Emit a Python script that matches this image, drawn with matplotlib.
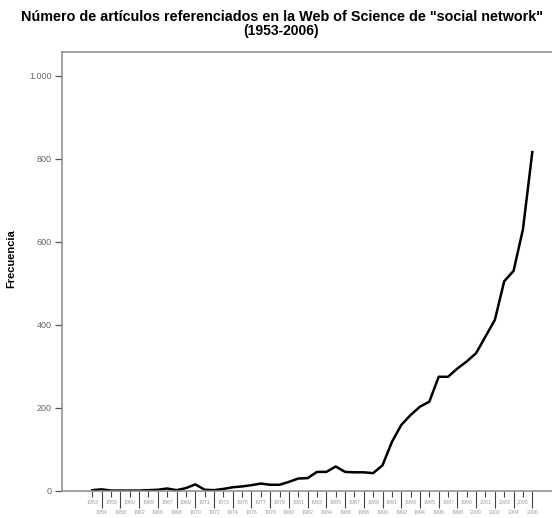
#!/usr/bin/env python3
"""Web of Science articles on "social network", 1953-2006."""

import matplotlib
matplotlib.use("Agg")
import matplotlib.pyplot as plt
from matplotlib.ticker import FuncFormatter

# categories on the x axis (years with at least one record)
years = [1953, 1954, 1955, 1958, 1960, 1962] + list(range(1965, 2007))

# number of articles per year
articles = [
    2, 4, 1, 1, 1, 1, 2, 3, 6, 2,
    7, 16, 3, 2, 5, 9, 11, 14, 18, 15,
    15, 22, 30, 31, 46, 46, 59, 46, 45, 45,
    43, 62, 118, 159, 183, 203, 215, 275, 275, 295,
    312, 332, 372, 412, 505, 530, 630, 816,
]

title_lines = [
    'Número de artículos referenciados en la Web of Science de "social network"',
    "(1953-2006)",
]
y_label = "Frecuencia"
y_ticks = [0, 200, 400, 600, 800, 1000]

W, H = 552, 518
fig = plt.figure(figsize=(W / 100, H / 100), dpi=100)
plt.rcParams["font.family"] = ["Liberation Sans", "DejaVu Sans"]

# axes box in pixels: left 62, top 52, bottom 491, right past the image edge
left, top, bottom, right = 62, 52, 491, 562
ax = fig.add_axes([left / W, 1 - bottom / H, (right - left) / W, (bottom - top) / H])

x = list(range(len(years)))
ax.plot(x, articles, color="black", linewidth=1.8, solid_joinstyle="round")

ax.set_xlim(-3.24, 47 + (right - 532.3) / 9.362)
ax.set_ylim(0, 1057)

for side in ("left", "top", "bottom"):
    ax.spines[side].set_color("#8a8a8a")
    ax.spines[side].set_linewidth(1.1)
ax.spines["right"].set_visible(False)

ax.set_yticks(y_ticks)
ax.yaxis.set_major_formatter(FuncFormatter(lambda v, _: f"{int(v):,}".replace(",", ".")))
ax.tick_params(axis="y", direction="out", length=5, width=0.9, color="#555555",
               labelsize=6.5, labelcolor="#666666", pad=2.5)

# two rows of year labels: even positions on top, odd positions below
even = x[0::2]
odd = x[1::2]
ax.set_xticks(even)
ax.set_xticklabels([str(years[i]) for i in even])
ax.set_xticks(odd, minor=True)
ax.set_xticklabels([str(years[i]) for i in odd], minor=True)
ax.tick_params(axis="x", which="major", direction="out", length=4, width=0.8,
               color="#444444", labelsize=3.8, labelcolor="#9a9a9a", pad=2.5)
ax.tick_params(axis="x", which="minor", direction="out", length=12, width=0.8,
               color="#444444", labelsize=3.8, labelcolor="#9a9a9a", pad=1.5)

ax.set_ylabel(y_label, fontsize=8, fontweight="bold")
ax.yaxis.set_label_coords((16 - left) / (right - left), 0.53)

fig.text(0.51, 1 - 17 / H, title_lines[0], ha="center", va="center",
         fontsize=10.4, fontweight="bold")
fig.text(0.51, 1 - 31 / H, title_lines[1], ha="center", va="center",
         fontsize=10, fontweight="bold")

fig.savefig("out.png", dpi=100)
